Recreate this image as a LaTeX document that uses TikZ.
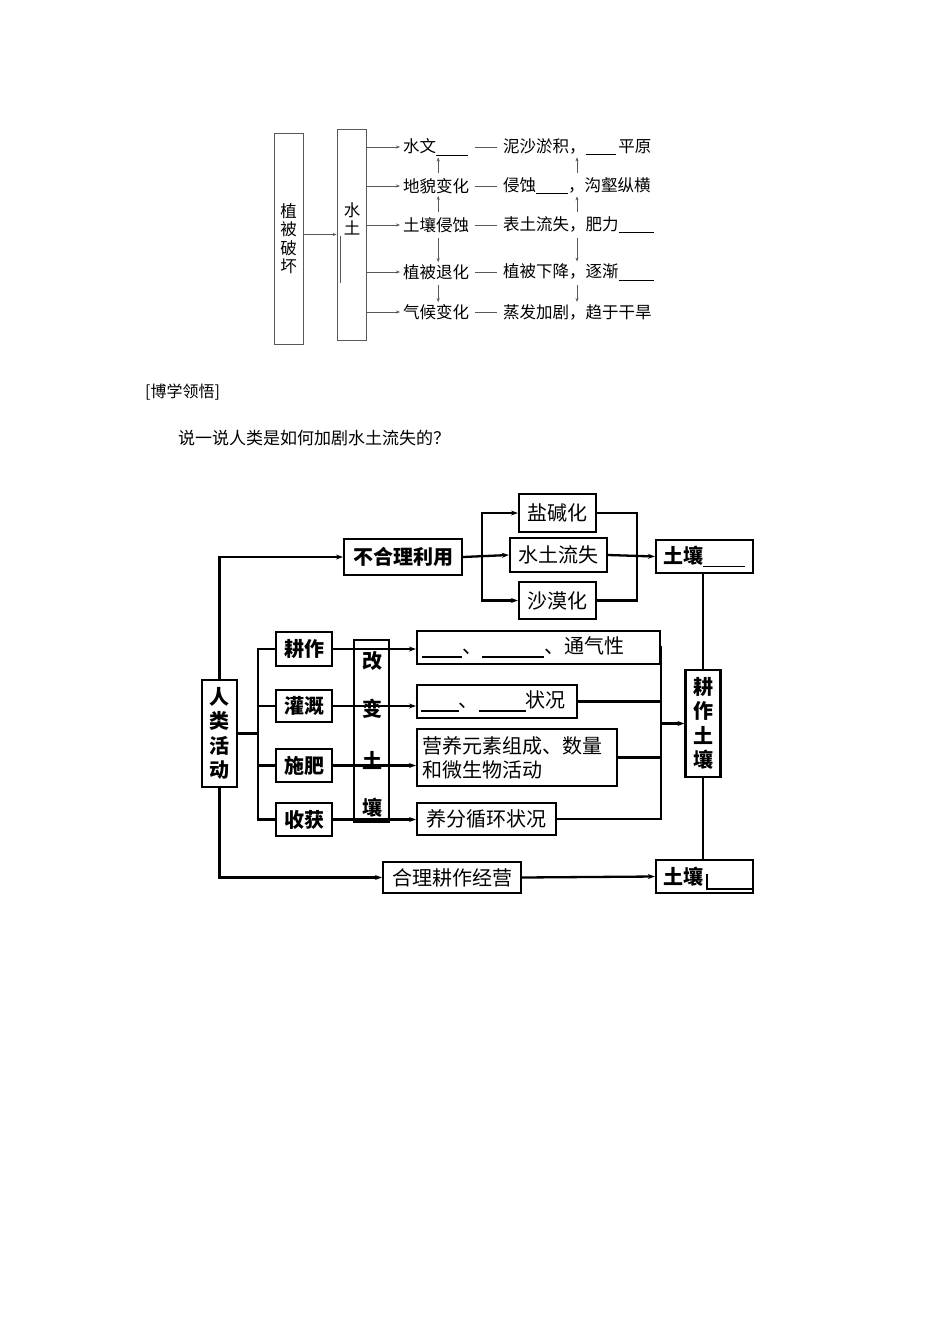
\documentclass[tikz,border=0pt]{standalone}
\usepackage{fontspec}
\newfontfamily\cjk{Noto Sans CJK SC}
\usetikzlibrary{arrows.meta,calc}
\newcommand\tblank[1]{\rule[-2.5pt]{#1}{0.7pt}}
\newcommand\bblank[1]{\rule[-4pt]{#1}{1.5pt}}
\begin{document}
\begin{tikzpicture}[x=1pt,y=-1pt,
  tbox/.style={draw=black!65, line width=0.8pt, inner sep=0pt},
  tlab/.style={font=\cjk\fontsize{16.5}{18.5}\selectfont, inner sep=0pt, anchor=west},
  tline/.style={draw=black!65, line width=0.7pt},
  tarr/.style={draw=black!65, line width=0.7pt, -{Stealth[length=4pt,width=3pt]}},
  bbox/.style={draw, line width=2.2pt, inner sep=0pt, font=\cjk\bfseries\fontsize{20}{24.5}\selectfont},
  bboxr/.style={draw, line width=2.2pt, inner sep=0pt, font=\cjk\fontsize{20}{24}\selectfont},
  btext/.style={inner sep=0pt, font=\cjk\bfseries\fontsize{20}{24}\selectfont},
  bline/.style={line width=2.3pt},
  barr/.style={line width=2.3pt, -{Stealth[length=7pt,width=5pt]}}]
\useasboundingbox[fill=white] (0,0) rectangle (950,1344);

% ---------- top diagram ----------
\node[tbox, minimum width=29, minimum height=211, align=center, font=\cjk\fontsize{16.5}{18.5}\selectfont] (zp) at (288.5,238.5) {植\\被\\破\\坏};
\node[tbox, minimum width=29, minimum height=211] (st) at (351.5,234.5) {};
\node[tlab, anchor=center, align=center] (stt) at (352,219) {水\\土};
\draw[tline] (340,236) -- (340,283);
\draw[tarr] (zp.east |- st.west) -- (st.west);

\node[tlab, text width=70, align=left] (l1) at (403,147) {水文\tblank{32pt}};
\node[tlab, text width=70, align=left] (l2) at (403,186) {地貌变化};
\node[tlab, text width=70, align=left] (l3) at (403,225) {土壤侵蚀};
\node[tlab, text width=70, align=left] (l4) at (403,272) {植被退化};
\node[tlab, text width=70, align=left] (l5) at (403,312) {气候变化};

\node[tlab] (m1) at (503,147) {泥沙淤积，\tblank{30pt}\,平原};
\node[tlab] (m2) at (503,186) {侵蚀\tblank{32pt}，沟壑纵横};
\node[tlab] (m3) at (503,225) {表土流失，肥力\tblank{35pt}};
\node[tlab] (m4) at (503,272) {植被下降，逐渐\tblank{35pt}};
\node[tlab] (m5) at (503,312) {蒸发加剧，趋于干旱};

\foreach \i in {1,...,5}{
  \draw[tarr, shorten >=3pt] (st.east |- l\i.west) -- (l\i.west);
  \draw[tline] ([xshift=2pt]l\i.east) -- ([xshift=-6pt]m\i.west);
}
\draw[tarr, shorten <=5pt, shorten >=2pt] (l2.north) -- (l1.south);
\draw[tarr, shorten <=5pt, shorten >=2pt] (l3.north) -- (l2.south);
\draw[tarr, shorten <=5pt, shorten >=2pt] (l3.south) -- (l4.north);
\draw[tarr, shorten <=5pt, shorten >=2pt] (l4.south) -- (l5.north);
\coordinate (cx) at (577,0);
\draw[tarr, shorten <=5pt, shorten >=2pt] (m2.north -| cx) -- (m1.south -| cx);
\draw[tarr, shorten <=5pt, shorten >=2pt] (m3.north -| cx) -- (m2.south -| cx);
\draw[tarr, shorten <=5pt, shorten >=2pt] (m3.south -| cx) -- (m4.north -| cx);
\draw[tarr, shorten <=5pt, shorten >=2pt] (m4.south -| cx) -- (m5.north -| cx);

% ---------- text ----------
\node[anchor=west, inner sep=0pt, font=\cjk\fontsize{16}{18}\selectfont] (t1) at (145,392) {[博学领悟]};
\node[anchor=west, inner sep=0pt, font=\cjk\fontsize{17}{19}\selectfont] (t2) at (178,438) {说一说人类是如何加剧水土流失的？};

% ---------- bottom diagram ----------
\node[bbox, minimum width=35, minimum height=107, align=center] (ha) at (219.5,733.5) {人\\类\\活\\动};
\node[bbox, minimum width=118, minimum height=36] (bl) at (403,557) {不合理利用};
\node[bboxr, minimum width=77, minimum height=38] (yj) at (557.5,513) {盐碱化};
\node[bboxr, minimum width=97, minimum height=34] (sl) at (558.5,555) {水土流失};
\node[bboxr, minimum width=77, minimum height=37] (sm) at (557.5,600.5) {沙漠化};
\node[bbox, minimum width=97, minimum height=33, text width=83, align=left] (tr1) at (704.5,556.5) {土壤\bblank{42pt}};
\node[bbox, minimum width=35, minimum height=107, align=center] (gt) at (703,723.5) {耕\\作\\土\\壤};
\node[bbox, minimum width=97, minimum height=33, text width=83, align=left] (tr2) at (704.5,876.5) {土壤};
\draw[line width=1.4pt] (707,874) -- (707,889) -- (752,889);
\node[bboxr, minimum width=138, minimum height=31] (hl) at (452,877.5) {合理耕作经营};

\node[bbox, minimum width=56, minimum height=34] (gz) at (304,649) {耕作};
\node[bbox, minimum width=56, minimum height=32] (gg) at (304,706) {灌溉};
\node[bbox, minimum width=56, minimum height=33] (sf) at (304,765.5) {施肥};
\node[bbox, minimum width=56, minimum height=33] (sh) at (304,819.5) {收获};

\node[bbox, minimum width=35, minimum height=182] (gb) at (371.5,731) {};
\node[btext] (gb1) at (372,661) {改};
\node[btext] (gb2) at (372,709) {变};
\node[btext] (gb3) at (372,760) {土};
\node[btext] (gb4) at (372,808) {壤};

\node[bboxr, minimum width=243, minimum height=33, text width=233, align=left] (r1) at (538.5,647.5) {\bblank{40pt}、\bblank{62pt}、通气性};
\node[bboxr, minimum width=160, minimum height=33, text width=153, align=left] (r2) at (497,701.5) {\bblank{38pt}、\bblank{47pt}状况};
\node[bboxr, minimum width=200, minimum height=57, text width=190, align=left] (r3) at (517,757.5) {营养元素组成、数量\\和微生物活动};
\node[bboxr, minimum width=139, minimum height=32] (r4) at (486.5,819) {养分循环状况};

% connectors
\draw[barr] (ha.north) |- (bl.west);
\draw[barr] (ha.south) |- (hl.west);
\coordinate (j1) at (482,557);
\draw[barr] (bl.east) -- (sl.west);
\draw[barr] (j1) |- (yj.west);
\draw[barr] (j1) |- (sm.west);
\coordinate (j2) at (637,557);
\draw[bline] (yj.east) -| (j2) |- (sm.east);
\draw[barr] (sl.east) -- (tr1.west);
\draw[bline] (tr1.south -| gt.north) -- (gt.north);
\draw[bline] (gt.south) -- (gt.south |- tr2.north);

\coordinate (j3) at (258,733.5);
\draw[bline] (ha.east) -- (j3);
\draw[bline] (gz.west) -| (j3) |- (sh.west);
\draw[bline] (gg.west) -- (gg.west -| j3);
\draw[bline] (sf.west) -- (sf.west -| j3);
\draw[barr] (gz.east) -- (gz.east -| r1.west);
\draw[barr] (gg.east) -- (gg.east -| r2.west);
\draw[barr] (sf.east) -- (sf.east -| r3.west);
\draw[barr] (sh.east) -- (sh.east -| r4.west);

\coordinate (j4) at (661,723.5);
\draw[bline] (r1.east) -| (j4) |- (r4.east);
\draw[bline] (r2.east) -- (r2.east -| j4);
\draw[bline] (r3.east) -- (r3.east -| j4);
\draw[barr] (j4) -- (gt.west);
\draw[barr] (hl.east) -- (tr2.west);
\end{tikzpicture}
\end{document}
